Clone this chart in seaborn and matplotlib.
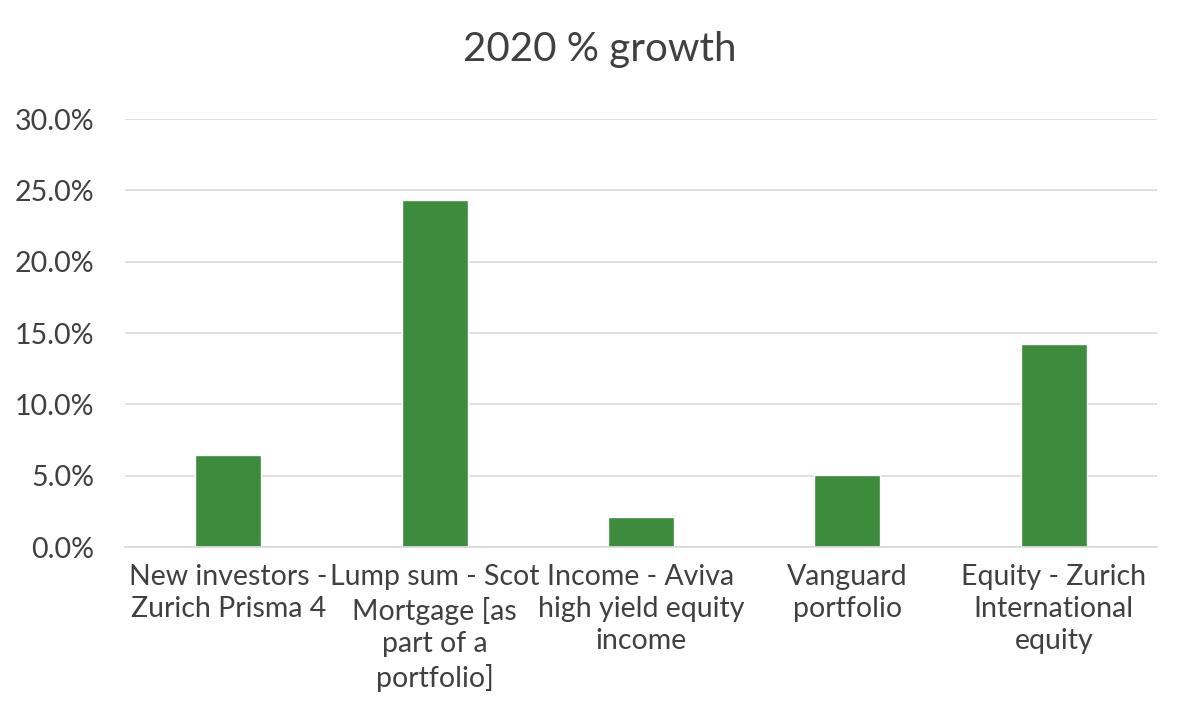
import matplotlib
matplotlib.use("Agg")
import matplotlib.pyplot as plt
import seaborn as sns
import pandas as pd
from matplotlib.ticker import FuncFormatter, MultipleLocator

categories = ["New investors -\nZurich Prisma 4", "Lump sum - Scot\nMortgage [as\npart of a\nportfolio]",
              "Income - Aviva\nhigh yield equity\nincome", "Vanguard\nportfolio", "Equity - Zurich\nInternational\nequity"]
values = [6.45, 24.3, 2.1, 5.05, 14.2]

sns.set_theme(style="white")
plt.rcParams['font.family'] = ['Lato', 'DejaVu Sans']
df = pd.DataFrame({"cat": categories, "val": values})

fig = plt.figure(figsize=(12, 7.23), dpi=100)
ax = fig.add_axes([125/1200, 1-547/723, (1157-125)/1200, (547-119)/723])
sns.barplot(data=df, x="cat", y="val", color="#3d8b3d", saturation=1, width=0.32, ax=ax)
ax.set_ylim(0, 30)
ax.yaxis.set_major_locator(MultipleLocator(5))
ax.yaxis.set_major_formatter(FuncFormatter(lambda v, p: f"{v:.1f}%"))
ax.grid(axis="y", color="#d9d9d9", linewidth=1.2)
ax.set_axisbelow(True)
for s in ["top", "right", "left"]:
    ax.spines[s].set_visible(False)
ax.spines["bottom"].set_color("#d9d9d9")
ax.tick_params(axis="both", length=0, labelsize=20.5, colors="#404040")
ax.tick_params(axis="x", pad=12)
ax.tick_params(axis="y", pad=22)
for t in ax.get_xticklabels():
    t.set_linespacing(1.3)
ax.set_xlabel("")
ax.set_ylabel("")
fig.suptitle("2020 % growth", y=1-50/723, va="center", fontsize=29, color="#404040")
fig.savefig("out.png", dpi=100)
